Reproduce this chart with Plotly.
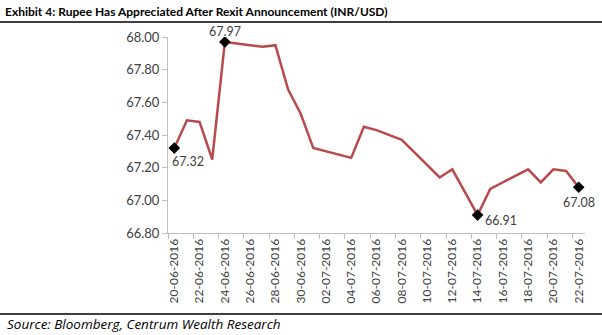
import plotly.graph_objects as go
import pandas as pd

dates = ["2016-06-20", "2016-06-21", "2016-06-22", "2016-06-23", "2016-06-24",
         "2016-06-27", "2016-06-28", "2016-06-29", "2016-06-30", "2016-07-01",
         "2016-07-04", "2016-07-05", "2016-07-06", "2016-07-07", "2016-07-08",
         "2016-07-11", "2016-07-12", "2016-07-13", "2016-07-14", "2016-07-15",
         "2016-07-18", "2016-07-19", "2016-07-20", "2016-07-21", "2016-07-22"]
inr_usd = [67.32, 67.49, 67.48, 67.25, 67.97,
           67.94, 67.95, 67.68, 67.53, 67.32,
           67.26, 67.45, 67.43, 67.40, 67.37,
           67.14, 67.19, 67.05, 66.91, 67.07,
           67.19, 67.11, 67.19, 67.18, 67.08]

marked_dates = ["2016-06-20", "2016-06-24", "2016-07-14", "2016-07-22"]
marked_vals = [67.32, 67.97, 66.91, 67.08]
marked_labels = ["67.32", "67.97", "66.91", "67.08"]
label_shift = [(14, 13), (0, -10), (23, 5), (0, 15)]

tick_dates = pd.date_range("2016-06-20", "2016-07-22", freq="2D")
minor_ticks = pd.date_range("2016-06-19 12:00", "2016-07-23 12:00", freq="2D")
y_ticks = [66.80, 67.00, 67.20, 67.40, 67.60, 67.80, 68.00]

FONT = "Lato"
TXT = "#404040"
GRID = "#bfbfbf"

fig = go.Figure()
fig.add_trace(go.Scatter(x=dates, y=inr_usd, mode="lines",
                         line=dict(color="#b94a4c", width=2.5),
                         hoverinfo="skip", showlegend=False))
fig.add_trace(go.Scatter(x=marked_dates, y=marked_vals, mode="markers",
                         marker=dict(symbol="diamond", size=9, color="black"),
                         hoverinfo="skip", showlegend=False))

for d, v, t, (dx, dy) in zip(marked_dates, marked_vals, marked_labels, label_shift):
    fig.add_annotation(x=d, y=v, text=t, showarrow=False, xshift=dx, yshift=-dy,
                       font=dict(family=FONT, size=12.5, color=TXT))

# layout geometry
L, R, T, B = 168, 17, 37, 102
W, H = 602, 335
pw = W - L - R
ph = H - T - B

def px_x(p):
    return (p - L) / pw

def px_y(p):
    return (H - B - p) / ph

for yy in [22, 314]:
    fig.add_shape(type="line", xref="paper", yref="paper",
                  x0=px_x(0), x1=px_x(W), y0=px_y(yy), y1=px_y(yy),
                  line=dict(color="black", width=1.6))

fig.add_annotation(xref="paper", yref="paper", x=px_x(5), y=px_y(324),
                   xanchor="left", yanchor="middle", showarrow=False,
                   text="<i>Source: Bloomberg, Centrum Wealth Research</i>",
                   font=dict(family="Open Sans", size=13.5, color="black"))

fig.update_layout(
    width=W, height=H,
    margin=dict(l=L, r=R, t=T, b=B),
    paper_bgcolor="white", plot_bgcolor="white",
    title=dict(text="<b>Exhibit 4: Rupee Has Appreciated After Rexit Announcement (INR/USD)</b>",
               x=5 / W, xanchor="left", xref="container",
               y=1 - 12 / H, yanchor="middle", yref="container",
               font=dict(family=FONT, size=12, color="black")),
    xaxis=dict(type="date",
               range=["2016-06-19 12:00", "2016-07-22 12:00"],
               tickvals=list(tick_dates), tickformat="%d-%m-%Y",
               tickangle=-90, ticks="",
               tickfont=dict(family=FONT, size=12, color=TXT),
               showgrid=False, zeroline=False,
               showline=True, linecolor=GRID, linewidth=1,
               minor=dict(tickvals=list(minor_ticks), ticks="outside",
                          ticklen=5, tickcolor=GRID, showgrid=False)),
    yaxis=dict(range=[66.80, 68.00], tickvals=y_ticks, tickformat=".2f",
               ticks="outside", ticklen=5, tickcolor=GRID,
               tickfont=dict(family=FONT, size=13, color=TXT),
               showgrid=False, zeroline=False,
               showline=True, linecolor=GRID, linewidth=1),
)

fig.write_html("out.html")
